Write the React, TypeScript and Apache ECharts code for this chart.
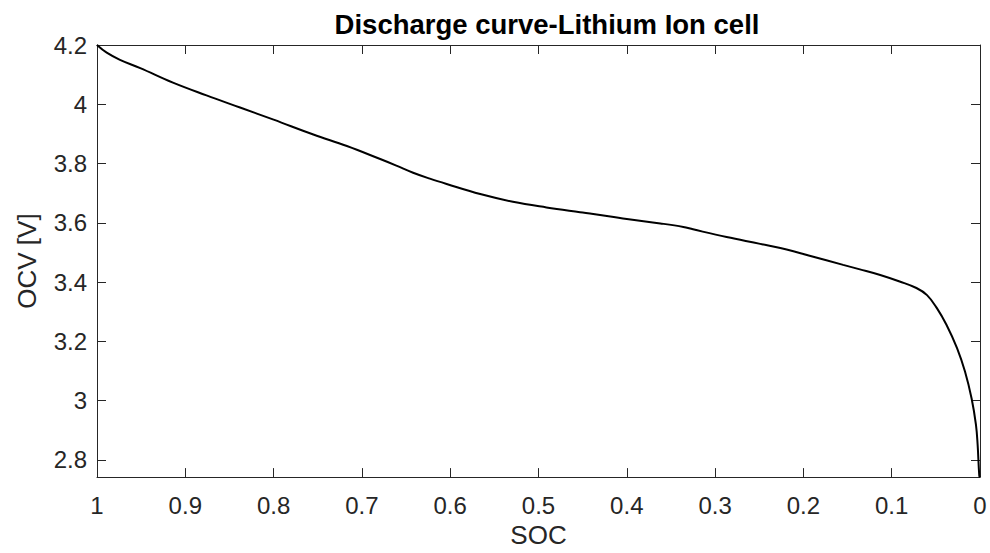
import React, { useEffect, useRef } from "react";
import * as echarts from "echarts";

const socValues = [1, 0.989, 0.974, 0.951, 0.914, 0.876, 0.838, 0.8, 0.755, 0.717, 0.68, 0.661, 0.642, 0.623, 0.604, 0.566, 0.529, 0.491, 0.453, 0.438, 0.4, 0.362, 0.336, 0.325, 0.287, 0.249, 0.219, 0.193, 0.155, 0.136, 0.113, 0.091, 0.072, 0.06, 0.049, 0.038, 0.026, 0.017, 0.0095, 0.0046, 0.0027, 0.0008, 0];
const ocvValues = [4.2, 4.174, 4.15, 4.122, 4.073, 4.03, 3.989, 3.948, 3.898, 3.859, 3.816, 3.793, 3.769, 3.749, 3.731, 3.697, 3.671, 3.652, 3.636, 3.63, 3.613, 3.598, 3.586, 3.578, 3.552, 3.529, 3.51, 3.489, 3.458, 3.443, 3.424, 3.402, 3.38, 3.356, 3.313, 3.256, 3.177, 3.098, 3.007, 2.919, 2.852, 2.746, 2.742];
const yTicks = [2.8, 3, 3.2, 3.4, 3.6, 3.8, 4, 4.2];
const xTicks = [0, 0.1, 0.2, 0.3, 0.4, 0.5, 0.6, 0.7, 0.8, 0.9, 1];

const FONT = "'Liberation Sans', Arial, Helvetica, sans-serif";
const AXIS_COLOR = "#262626";

export default function App() {
  const ref = useRef<HTMLDivElement>(null);
  useEffect(() => {
    document.body.style.margin = "0";
    const chart = echarts.init(ref.current!, undefined, { renderer: "svg" });
    const fmt = (v: number) => String(Number(v.toFixed(2)));
    const lineStyle = { color: AXIS_COLOR, width: 1 };
    const tick = { show: true, inside: true, length: 9, lineStyle: { color: AXIS_COLOR, width: 1 } };
    const points = socValues.map((s, i) => [s, ocvValues[i]]).reverse();
    chart.setOption({
      animation: false,
      backgroundColor: "#ffffff",
      title: {
        text: "Discharge curve-Lithium Ion cell",
        left: 542,
        top: 5,
        textAlign: "center",
        textStyle: { fontFamily: FONT, fontWeight: "bold", fontSize: 27.5, color: "#000000" },
      },
      grid: { left: 97, right: 10, top: 45, bottom: 73, containLabel: false },
      xAxis: [
        {
          type: "value",
          position: "bottom",
          min: 0,
          max: 1,
          interval: 0.1,
          inverse: true,
          axisLine: { show: true, onZero: false, lineStyle },
          axisTick: { ...tick, customValues: xTicks },
          axisLabel: { fontFamily: FONT, fontSize: 24, color: AXIS_COLOR, margin: 16, formatter: fmt, customValues: xTicks },
          splitLine: { show: false },
          name: "SOC",
          nameLocation: "middle",
          nameGap: 43,
          nameTextStyle: { fontFamily: FONT, fontSize: 26, color: AXIS_COLOR },
        },
        {
          type: "value",
          position: "top",
          min: 0,
          max: 1,
          interval: 0.1,
          inverse: true,
          axisLine: { show: true, onZero: false, lineStyle },
          axisTick: { ...tick, customValues: xTicks },
          axisLabel: { show: false },
          splitLine: { show: false },
        },
      ],
      yAxis: [
        {
          type: "value",
          position: "left",
          min: 2.742,
          max: 4.2,
          axisLine: { show: true, onZero: false, lineStyle },
          axisTick: { ...tick, customValues: yTicks },
          axisLabel: { fontFamily: FONT, fontSize: 24, color: AXIS_COLOR, margin: 10, formatter: fmt, customValues: yTicks },
          splitLine: { show: false },
          name: "OCV [V]",
          nameLocation: "middle",
          nameRotate: 90,
          nameGap: 57,
          nameTextStyle: { fontFamily: FONT, fontSize: 26, color: AXIS_COLOR },
        },
        {
          type: "value",
          position: "right",
          min: 2.742,
          max: 4.2,
          axisLine: { show: true, onZero: false, lineStyle },
          axisTick: { ...tick, customValues: yTicks },
          axisLabel: { show: false },
          splitLine: { show: false },
        },
      ],
      series: [
        {
          type: "line",
          xAxisIndex: 0,
          yAxisIndex: 0,
          data: points,
          showSymbol: false,
          smooth: 0.4,
          lineStyle: { color: "#000000", width: 2 },
          clip: true,
        },
      ],
    });
    return () => chart.dispose();
  }, []);
  return <div ref={ref} style={{ width: 990, height: 553 }} />;
}
